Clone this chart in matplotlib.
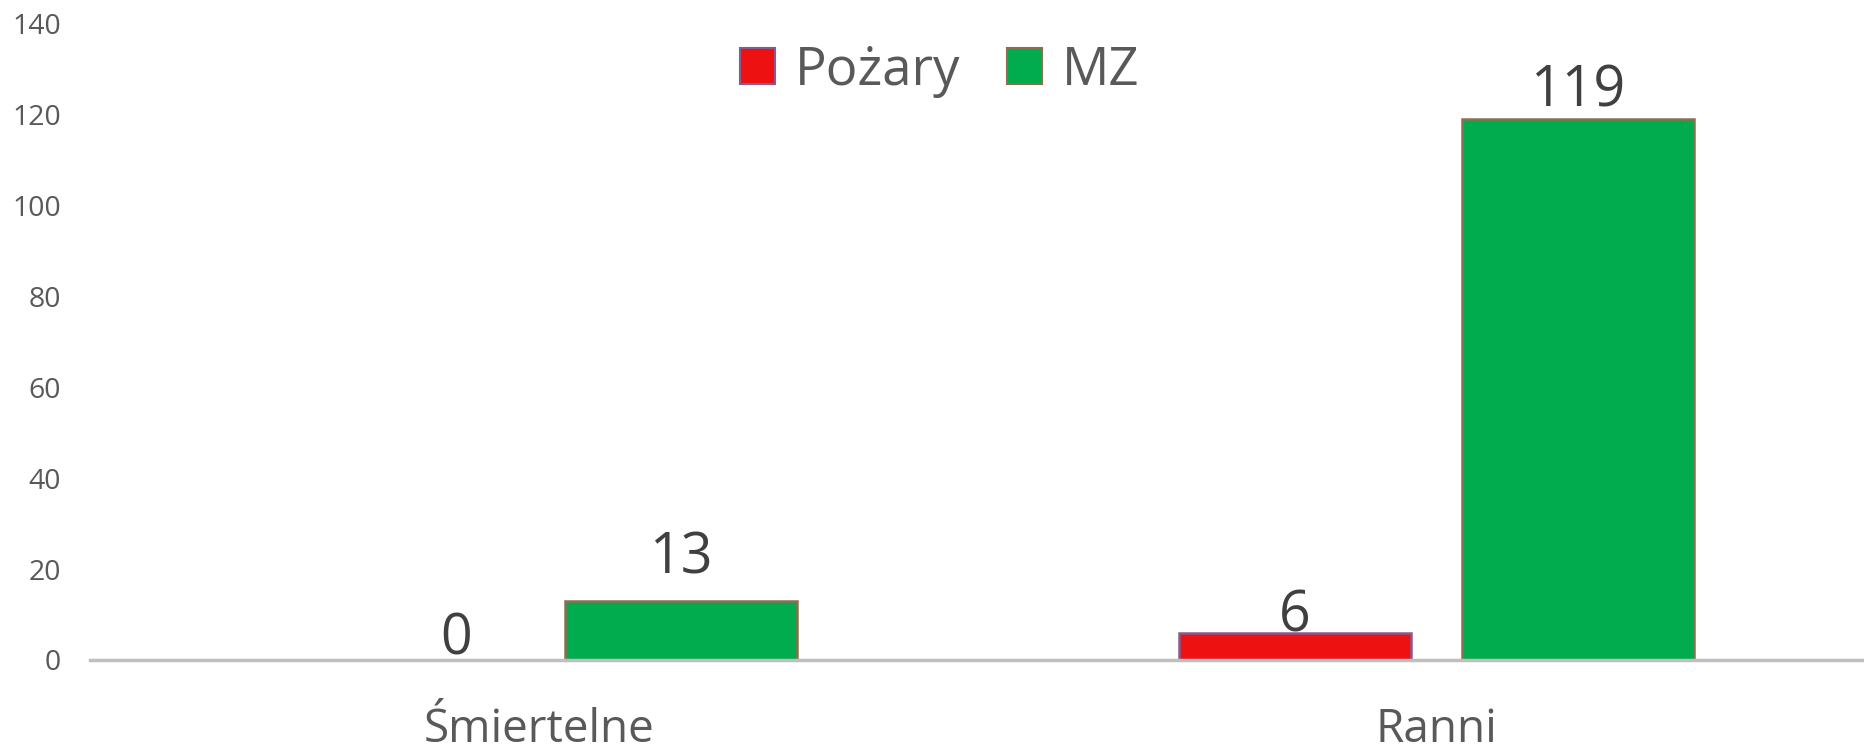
import matplotlib
matplotlib.use("Agg")
import matplotlib.pyplot as plt
from matplotlib.patches import Patch
import numpy as np

categories = ["Śmiertelne", "Ranni"]
series_names = ["Pożary", "MZ"]
pozary = [0, 6]
mz = [13, 119]
y_ticks = [0, 20, 40, 60, 80, 100, 120, 140]

plt.rcParams['font.family'] = ['Open Sans', 'DejaVu Sans']

W, H = 1865, 751
fig = plt.figure(figsize=(W / 100, H / 100), dpi=100)
ax = fig.add_axes([90 / W, 91 / H, (W - 90) / W, (660 - 24) / H])

x = np.arange(len(categories))
bw = 232 / 896.5
gap = 51 / 896.5
off = (bw + gap) / 2

red = "#EE1111"
green = "#00AC4E"
b1 = ax.bar(x - off, pozary, bw, color=red, edgecolor="#8A5A8E", linewidth=1.8, zorder=3)
b2 = ax.bar(x + off, mz, bw, color=green, edgecolor="#8A7052", linewidth=1.8, zorder=3)

ax.set_xlim(-0.5014, 1.4785)
ax.set_ylim(0, 140)
ax.set_yticks(y_ticks)
ax.set_yticklabels([str(t) for t in y_ticks], fontsize=20.5, color="#595959")
ax.set_xticks(x)
ax.set_xticklabels(categories, fontsize=33, color="#595959")
ax.tick_params(axis="y", length=0, pad=21)
ax.tick_params(axis="x", length=0, pad=34)
for s in ["top", "right", "left"]:
    ax.spines[s].set_visible(False)
ax.spines["bottom"].set_color("#BFBFBF")
ax.spines["bottom"].set_linewidth(2.5)
ax.spines["bottom"].set_zorder(4)

# data labels (offsets in points: dx, dy of baseline above bar top)
label_offsets = {(0, 0): (42, 4.3), (0, 1): (0, 0.7), (1, 0): (0, 20), (1, 1): (0, 9.4)}
for si, bars in enumerate([b1, b2]):
    for ci, r in enumerate(bars):
        v = r.get_height()
        dx, dy = label_offsets[(si, ci)]
        ax.annotate(f"{int(v)}", (r.get_x() + r.get_width() / 2, v),
                    xytext=(dx, dy), textcoords="offset points",
                    ha="center", va="baseline", fontsize=40, color="#404040")

handles = [Patch(facecolor=red, edgecolor="#8A5A8E", linewidth=1.5),
           Patch(facecolor=green, edgecolor="#8A7052", linewidth=1.5)]
fig.legend(handles, series_names, loc="center", bbox_to_anchor=(940 / W, 680 / H),
           ncol=2, frameon=False, fontsize=38, labelcolor="#595959",
           handlelength=0.66, handleheight=0.66, handletextpad=0.38,
           columnspacing=0.89, borderpad=0, borderaxespad=0)

fig.savefig("out.png", dpi=100)
